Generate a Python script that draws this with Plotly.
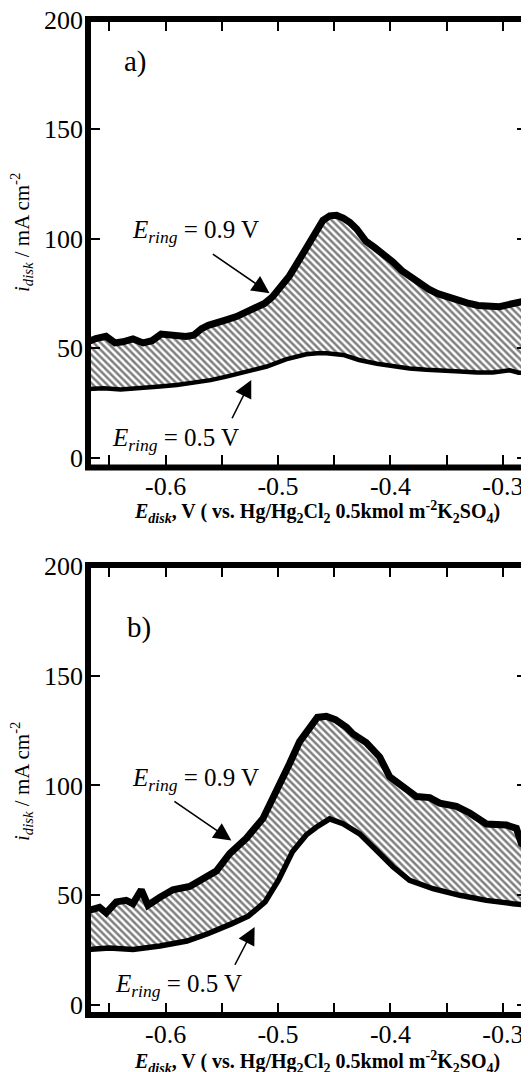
import plotly.graph_objects as go
from plotly.subplots import make_subplots

# ---------------- data ----------------
# panel a) upper curve (E_ring = 0.9 V)
a_upper_x = [-0.669, -0.662, -0.653, -0.645, -0.638, -0.629, -0.620, -0.612, -0.604, -0.597,
             -0.590, -0.582, -0.575, -0.568, -0.562, -0.554, -0.546, -0.537, -0.528, -0.520,
             -0.512, -0.505, -0.497, -0.490, -0.484, -0.478, -0.472, -0.466, -0.460, -0.454,
             -0.448, -0.442, -0.436, -0.430, -0.422, -0.414, -0.406, -0.398, -0.390, -0.382,
             -0.374, -0.366, -0.358, -0.350, -0.341, -0.332, -0.322, -0.312, -0.303, -0.295,
             -0.286, -0.277]
a_upper_y = [53.0, 54.5, 55.5, 52.5, 53.0, 54.3, 52.5, 53.5, 56.5, 56.0,
             55.4, 55.4, 56.0, 59.0, 60.5, 61.5, 63.0, 64.5, 66.8, 68.5,
             70.5, 73.5, 78.0, 83.0, 88.0, 93.0, 98.5, 104.0, 108.5, 110.5,
             110.8, 109.5, 107.5, 104.5, 99.0, 96.0, 93.0, 89.5, 85.5, 82.5,
             79.5, 77.0, 75.0, 73.5, 72.0, 70.8, 69.6, 69.0, 69.0, 70.0,
             71.0, 72.0]
# panel a) lower curve (E_ring = 0.5 V)
a_lower_x = [-0.669, -0.655, -0.640, -0.625, -0.605, -0.590, -0.576, -0.560, -0.546, -0.528,
             -0.510, -0.493, -0.475, -0.465, -0.457, -0.442, -0.428, -0.412, -0.398, -0.383,
             -0.368, -0.353, -0.338, -0.323, -0.309, -0.294, -0.286, -0.277]
a_lower_y = [31.5, 31.8, 31.2, 31.6, 32.6, 33.3, 34.1, 35.5, 37.1, 39.4,
             41.7, 45.0, 47.3, 47.8, 47.8, 47.0, 44.7, 43.0, 41.7, 40.8,
             40.2, 39.6, 39.4, 39.0, 39.0, 40.0, 38.9, 38.7]

# panel b) upper curve (E_ring = 0.9 V)
b_upper_x = [-0.669, -0.6587, -0.6528, -0.6439, -0.635, -0.629, -0.6216, -0.6157, -0.6053, -0.5935,
             -0.5786, -0.5668, -0.5549, -0.543, -0.5282, -0.5134, -0.5015, -0.4897, -0.4808, -0.4719,
             -0.465, -0.457, -0.449, -0.4392, -0.4334, -0.4215, -0.4096, -0.4007, -0.3889, -0.377,
             -0.3651, -0.3562, -0.3414, -0.3295, -0.3147, -0.2969, -0.288, -0.2835, -0.2768]
b_upper_y = [43.0, 44.5, 42.0, 47.0, 47.7, 46.2, 52.5, 45.5, 49.0, 52.5,
             54.0, 57.5, 61.0, 69.0, 76.0, 85.0, 97.0, 110.0, 120.0, 127.0,
             131.0, 131.5, 130.0, 126.5, 123.5, 119.5, 113.0, 104.0, 99.5, 95.0,
             94.5, 92.0, 90.5, 87.5, 82.5, 82.0, 80.5, 73.5, 71.0]
# panel b) lower curve (E_ring = 0.5 V)
b_lower_x = [-0.669, -0.650, -0.629, -0.605, -0.581, -0.5625, -0.5415, -0.5265, -0.5115, -0.4995,
             -0.487, -0.4749, -0.466, -0.4541, -0.4423, -0.4274, -0.4125, -0.3978, -0.383, -0.3622,
             -0.3384, -0.3147, -0.291, -0.2768]
b_lower_y = [25.3, 26.0, 25.3, 26.9, 29.2, 32.5, 37.0, 40.5, 47.0, 57.0,
             70.0, 77.5, 81.0, 84.8, 82.6, 78.0, 70.5, 63.0, 56.8, 53.0,
             50.0, 47.7, 46.2, 45.5]

x_tickvals = [-0.6, -0.5, -0.4, -0.3]
x_ticktext = ["-0.6", "-0.5", "-0.4", "-0.3"]
x_minorvals = [-0.65, -0.55, -0.45, -0.35]
y_tickvals = [0, 50, 100, 150, 200]
y_ticktext = ["0", "50", "100", "150", "200"]

panel_labels = ["a)", "b)"]
label_upper = "<i>E</i><sub><i>ring</i></sub> = 0.9 V"
label_lower = "<i>E</i><sub><i>ring</i></sub> = 0.5 V"
x_title = ("<b><i>E</i><sub><i>disk</i></sub>, V ( vs. Hg/Hg<sub>2</sub>Cl<sub>2</sub> "
           "0.5kmol m<sup>-2</sup>K<sub>2</sub>SO<sub>4</sub>)</b>")
y_title = "<i>i</i><sub><i>disk</i></sub> / mA cm<sup>-2</sup>"

FONT = "Liberation Serif, Times New Roman, serif"

# ---------------- figure ----------------
# the page body has an 8 px margin, so the figure is 8 px smaller than the window
fig = make_subplots(rows=2, cols=1, vertical_spacing=0.0)

panels = [
    dict(row=1, ux=a_upper_x, uy=a_upper_y, lx=a_lower_x, ly=a_lower_y,
         dom=[0.5497, 1.0], yr=[-4.4, 200.4], lw_low=4.5,
         lab=(-0.6267, 181), up_txt=(-0.5733, 103.2), up_arr=((-0.5593, 93.5), (-0.5075, 75.2)),
         lo_txt=(-0.5911, 8.2), lo_arr=((-0.5415, 17.4), (-0.5238, 35.6)),
         xtitle_y=-0.100, ytitle_y=0.525),
    dict(row=2, ux=b_upper_x, uy=b_upper_y, lx=b_lower_x, ly=b_lower_y,
         dom=[0.0, 0.4518], yr=[-4.5, 200.4], lw_low=5.5,
         lab=(-0.624, 172), up_txt=(-0.5733, 102.7), up_arr=((-0.5935, 93.2), (-0.5415, 75.0)),
         lo_txt=(-0.5884, 9.0), lo_arr=((-0.539, 17.7), (-0.5208, 35.6)),
         xtitle_y=-0.104, ytitle_y=0.52),
]

for i, p in enumerate(panels):
    r = p["row"]
    xs = "" if r == 1 else str(r)
    # lower curve
    fig.add_trace(go.Scatter(x=p["lx"], y=p["ly"], mode="lines",
                             line=dict(color="black", width=p["lw_low"]),
                             showlegend=False, hoverinfo="skip"), row=r, col=1)
    # upper curve with hatched fill down to lower curve
    fig.add_trace(go.Scatter(x=p["ux"], y=p["uy"], mode="lines",
                             line=dict(color="black", width=7),
                             fill="tonexty", fillcolor="white",
                             fillpattern=dict(shape="\\", size=5, solidity=0.5,
                                              fgcolor="black", bgcolor="white"),
                             showlegend=False, hoverinfo="skip"), row=r, col=1)

    fig.update_xaxes(range=[-0.669, -0.2768], tickvals=x_tickvals, ticktext=x_ticktext,
                     ticks="inside", ticklen=12, tickwidth=1.5, tickcolor="black",
                     minor=dict(tickvals=x_minorvals, ticks="inside",
                                ticklen=12, tickwidth=1.5, tickcolor="black"),
                     mirror="ticks", showline=False, showgrid=False, zeroline=False,
                     automargin=False, ticklabeloverflow="allow",
                     tickfont=dict(family=FONT, size=26, color="black"),
                     ticklabelstandoff=1, row=r, col=1)
    fig.update_yaxes(range=p["yr"], tickvals=y_tickvals, ticktext=y_ticktext,
                     domain=p["dom"],
                     ticks="inside", ticklen=12, tickwidth=1.5, tickcolor="black",
                     mirror="ticks", showline=False, showgrid=False, zeroline=False,
                     automargin=False, ticklabeloverflow="allow",
                     tickfont=dict(family=FONT, size=26, color="black"),
                     ticklabelstandoff=4, row=r, col=1)

    xref = "x" + xs
    yref = "y" + xs
    # frame
    fig.add_shape(type="rect", xref=xref + " domain", yref=yref + " domain",
                  x0=0, x1=1.03, y0=0, y1=1, line=dict(color="black", width=6),
                  fillcolor="rgba(0,0,0,0)", layer="above")
    # panel label
    fig.add_annotation(x=p["lab"][0], y=p["lab"][1], xref=xref, yref=yref,
                       text=panel_labels[i], showarrow=False,
                       xanchor="center", yanchor="middle",
                       font=dict(family=FONT, size=29, color="black"))
    # curve labels
    fig.add_annotation(x=p["up_txt"][0], y=p["up_txt"][1], xref=xref, yref=yref,
                       text=label_upper, showarrow=False,
                       xanchor="center", yanchor="middle",
                       font=dict(family=FONT, size=25, color="black"))
    fig.add_annotation(x=p["lo_txt"][0], y=p["lo_txt"][1], xref=xref, yref=yref,
                       text=label_lower, showarrow=False,
                       xanchor="center", yanchor="middle",
                       font=dict(family=FONT, size=25, color="black"))
    # arrows
    for (tail, head) in (p["up_arr"], p["lo_arr"]):
        fig.add_annotation(x=head[0], y=head[1], ax=tail[0], ay=tail[1],
                           xref=xref, yref=yref, axref=xref, ayref=yref,
                           text="", showarrow=True, arrowhead=2, arrowsize=2.2,
                           arrowwidth=1.6, arrowcolor="black", standoff=0)
    # axis titles
    fig.add_annotation(x=-0.152, y=p["ytitle_y"], xref=xref + " domain",
                       yref=yref + " domain", text=y_title, textangle=-90,
                       xanchor="center", yanchor="middle",
                       showarrow=False, font=dict(family=FONT, size=21, color="black"))
    fig.add_annotation(x=0.519, y=p["xtitle_y"], xref=xref + " domain",
                       yref=yref + " domain", text=x_title, showarrow=False,
                       xanchor="center", yanchor="middle",
                       font=dict(family=FONT, size=20, color="black"))

fig.update_layout(width=521, height=1064,
                  margin=dict(l=80, r=0, t=11, b=57, autoexpand=False),
                  plot_bgcolor="white", paper_bgcolor="white",
                  showlegend=False)

fig.write_html("out.html")
